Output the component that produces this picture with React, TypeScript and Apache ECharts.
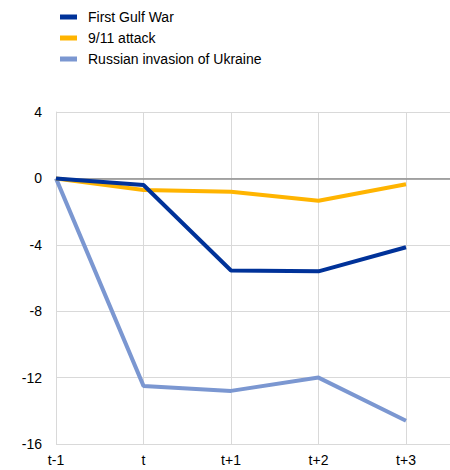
import React, { useEffect, useRef } from "react";
import * as echarts from "echarts";

const categories = ["t-1", "t", "t+1", "t+2", "t+3"];
const gulfWar = [0, -0.4, -5.55, -5.6, -4.15];
const attack911 = [0, -0.7, -0.8, -1.35, -0.35];
const ukraine = [0, -12.5, -12.8, -12.0, -14.6];
const seriesNames = ["First Gulf War", "9/11 attack", "Russian invasion of Ukraine"];
const colors = ["#003299", "#ffb400", "#7b97d1"];

export default function App() {
  const ref = useRef<HTMLDivElement>(null);
  useEffect(() => {
    document.body.style.margin = "0";
    document.body.style.overflow = "hidden";
    document.documentElement.style.overflow = "hidden";
    if (!ref.current) return;
    const chart = echarts.init(ref.current, undefined, { renderer: "svg" });
    const font = "Liberation Sans, Arial, sans-serif";
    const datasets = [gulfWar, attack911, ukraine];
    chart.setOption({
      animation: false,
      textStyle: { fontFamily: font },
      legend: {
        orient: "vertical",
        left: 55,
        top: 5,
        itemWidth: 17,
        itemHeight: 5,
        itemGap: 7,
        icon: "rect",
        textStyle: { fontSize: 14, color: "#000", fontFamily: font, padding: [0, 0, 0, 6] },
        data: seriesNames,
      },
      grid: {
        left: 56,
        right: -43.5,
        top: 112,
        bottom: 26,
        containLabel: false,
        outerBoundsMode: "none",
      },
      xAxis: {
        type: "category",
        boundaryGap: false,
        data: [...categories, ""],
        axisLine: { show: false },
        axisTick: { show: false },
        axisLabel: { fontSize: 14, color: "#000", margin: 9, fontFamily: font, interval: 0 },
        splitLine: { show: true, interval: 0, lineStyle: { color: "#d9d9d9", width: 1 } },
      },
      yAxis: {
        type: "value",
        min: -16,
        max: 4,
        interval: 4,
        axisLine: { show: true, lineStyle: { color: "#d9d9d9" } },
        axisTick: { show: false },
        axisLabel: { fontSize: 14, color: "#000", margin: 14, fontFamily: font },
        splitLine: { show: true, lineStyle: { color: "#d9d9d9", width: 1 } },
      },
      series: datasets.map((d, i) => ({
        name: seriesNames[i],
        type: "line",
        data: d,
        symbol: "none",
        z: 10 - i,
        lineStyle: { width: 4, color: colors[i] },
        itemStyle: { color: colors[i] },
        markLine:
          i === 0
            ? {
                silent: true,
                symbol: "none",
                label: { show: false },
                lineStyle: { color: "#8c8c8c", type: "solid", width: 1.5 },
                data: [{ yAxis: 0 }],
                z: 1,
              }
            : undefined,
      })),
    });
    return () => chart.dispose();
  }, []);
  return <div ref={ref} style={{ width: 450, height: 470, display: "block" }} />;
}
